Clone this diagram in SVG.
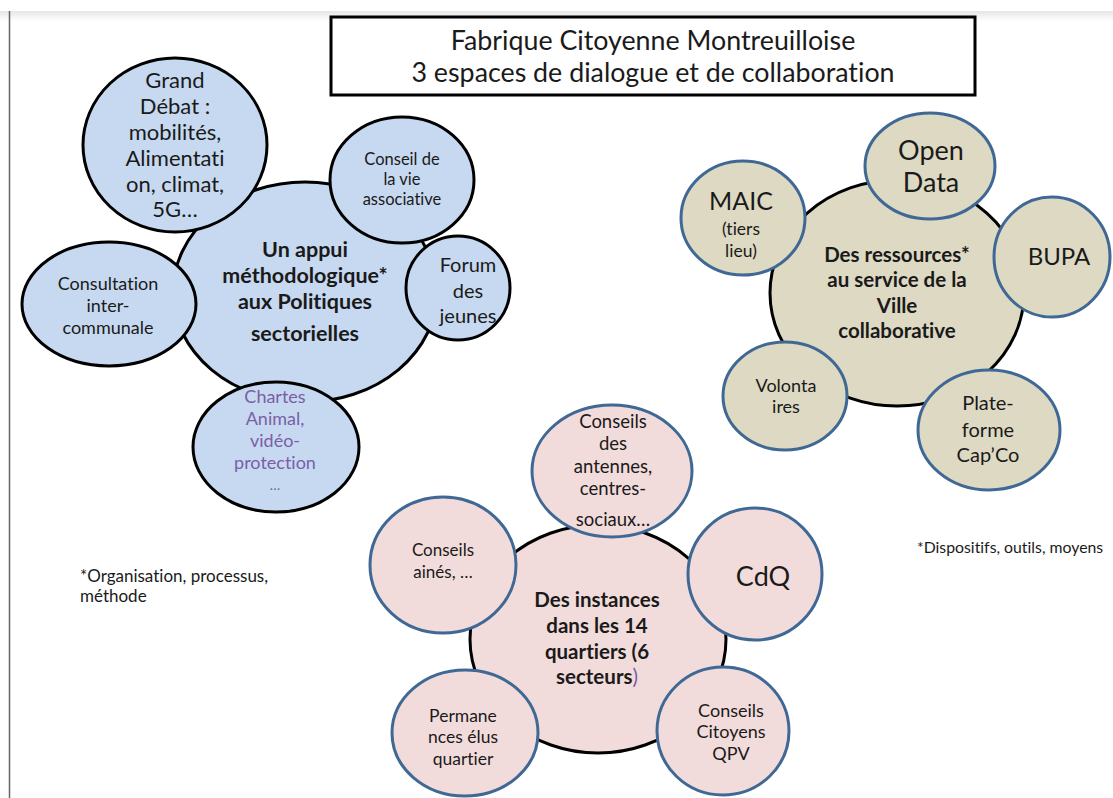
<svg xmlns="http://www.w3.org/2000/svg" width="1113" height="798" viewBox="0 0 1113 798">
<defs>
<linearGradient id="topShade" x1="0" y1="0" x2="0" y2="1">
<stop offset="0" stop-color="#e6e6e6"/>
<stop offset="1" stop-color="#ffffff"/>
</linearGradient>
<style>
text{font-family:Lato,"Liberation Sans",Arial,sans-serif;text-anchor:middle;fill:#1a1a1a;font-variant-ligatures:none;font-feature-settings:"liga" 0,"clig" 0}
.b{font-weight:bold}
.blue{fill:#c6d9f0;stroke:#000;stroke-width:3}
.tanC{fill:#ddd9c3;stroke:#000;stroke-width:3}
.tanS{fill:#ddd9c3;stroke:#3f6895;stroke-width:3}
.pinkC{fill:#f2dcdb;stroke:#000;stroke-width:3}
.pinkS{fill:#f2dcdb;stroke:#3f6895;stroke-width:3}
.purple{fill:#7b5ea6}
.fn{text-anchor:start}
</style>
</defs>
<rect width="1113" height="798" fill="#fff"/>
<rect x="0" y="11" width="1113" height="10" fill="url(#topShade)"/>
<line x1="9.5" y1="11" x2="9.5" y2="798" stroke="#666" stroke-width="1.5"/>

<g id="title">
<rect x="331" y="17" width="644" height="78" fill="#fff" stroke="#000" stroke-width="3"/>
<text x="653" y="50" font-size="26.8">Fabrique Citoyenne Montreuilloise</text>
<text x="653" y="82" font-size="26.8">3 espaces de dialogue et de collaboration</text>
</g>

<g id="connectors"></g>

<!-- Blue cluster -->
<g id="appui">
<ellipse class="blue" cx="305" cy="292" rx="132" ry="110"/>
<text class="b" font-size="21.5" x="305" y="257">Un appui</text>
<text class="b" font-size="21.5" x="305" y="283">méthodologique*</text>
<text class="b" font-size="21.5" x="305" y="309">aux Politiques</text>
<text class="b" font-size="21.5" x="305" y="341">sectorielles</text>
</g>
<g id="grand-debat">
<ellipse class="blue" cx="175" cy="145" rx="92" ry="87"/>
<text font-size="22" x="175" y="88">Grand</text>
<text font-size="22" x="175" y="114">Débat :</text>
<text font-size="22" x="175" y="140">mobilités,</text>
<text font-size="22" x="175" y="166">Alimentati</text>
<text font-size="22" x="175" y="192">on, climat,</text>
<text font-size="22" x="175" y="217">5G…</text>
</g>
<g id="conseil-vie-asso">
<ellipse class="blue" cx="402" cy="180" rx="72" ry="63"/>
<text font-size="16.5" x="402" y="165">Conseil de</text>
<text font-size="16.5" x="402" y="185">la vie</text>
<text font-size="16.5" x="402" y="205">associative</text>
</g>
<g id="forum">
<ellipse class="blue" cx="458" cy="288" rx="52" ry="52"/>
<text font-size="20" x="468" y="272">Forum</text>
<text font-size="20" x="468" y="298">des</text>
<text font-size="20" x="468" y="323">jeunes</text>
</g>
<g id="consultation">
<ellipse class="blue" cx="109" cy="304" rx="87" ry="62"/>
<text font-size="18" x="108" y="290">Consultation</text>
<text font-size="18" x="108" y="312">inter-</text>
<text font-size="18" x="108" y="334">communale</text>
</g>
<g id="chartes">
<ellipse class="blue" cx="276" cy="447" rx="83" ry="65"/>
<text class="purple" font-size="18" x="275" y="403">Chartes</text>
<text class="purple" font-size="18" x="275" y="425">Animal,</text>
<text class="purple" font-size="18" x="275" y="447">vidéo-</text>
<text class="purple" font-size="18" x="275" y="469">protection</text>
<text class="purple" font-size="14" x="275" y="490">…</text>
</g>

<!-- Tan cluster -->
<g id="ressources">
<ellipse class="tanC" cx="897" cy="293" rx="127" ry="113"/>
<text class="b" font-size="20.5" x="897" y="262">Des ressources*</text>
<text class="b" font-size="20.5" x="897" y="287">au service de la</text>
<text class="b" font-size="20.5" x="897" y="313">Ville</text>
<text class="b" font-size="20.5" x="897" y="338">collaborative</text>
</g>
<g id="open-data">
<ellipse class="tanS" cx="930" cy="166" rx="65" ry="53"/>
<text font-size="27" x="931" y="160">Open</text>
<text font-size="27" x="931" y="192">Data</text>
</g>
<g id="maic">
<ellipse class="tanS" cx="743" cy="218" rx="62" ry="57"/>
<text font-size="25" x="741" y="210">MAIC</text>
<text font-size="17.5" x="741" y="235">(tiers</text>
<text font-size="17.5" x="741" y="257">lieu)</text>
</g>
<g id="bupa">
<ellipse class="tanS" cx="1052" cy="257" rx="58" ry="60"/>
<text font-size="24" x="1059" y="265">BUPA</text>
</g>
<g id="volontaires">
<ellipse class="tanS" cx="785" cy="396" rx="62" ry="54"/>
<text font-size="18" x="786" y="392">Volonta</text>
<text font-size="18" x="786" y="413">ires</text>
</g>
<g id="capco">
<ellipse class="tanS" cx="989" cy="430" rx="71" ry="60"/>
<text font-size="20" x="988" y="410">Plate-</text>
<text font-size="20" x="988" y="437">forme</text>
<text font-size="20" x="988" y="462">Cap’Co</text>
</g>

<!-- Pink cluster -->
<g id="instances">
<ellipse class="pinkC" cx="598" cy="639" rx="128" ry="114"/>
<text class="b" font-size="20.5" x="597" y="607">Des instances</text>
<text class="b" font-size="20.5" x="597" y="633">dans les 14</text>
<text class="b" font-size="20.5" x="597" y="659">quartiers (6</text>
<text font-size="20.5" x="597" y="684"><tspan class="b">secteurs</tspan><tspan class="purple">)</tspan></text>
</g>
<g id="antennes">
<ellipse class="pinkS" cx="612" cy="471" rx="80" ry="66"/>
<text font-size="18.5" x="613" y="428">Conseils</text>
<text font-size="18.5" x="613" y="450">des</text>
<text font-size="18.5" x="613" y="473">antennes,</text>
<text font-size="18.5" x="613" y="495">centres-</text>
<text font-size="18.5" x="613" y="526">sociaux…</text>
</g>
<g id="aines">
<ellipse class="pinkS" cx="443" cy="565" rx="73" ry="68"/>
<text font-size="17" x="443" y="556">Conseils</text>
<text font-size="17" x="443" y="578">ainés, …</text>
</g>
<g id="cdq">
<ellipse class="pinkS" cx="755" cy="574" rx="67" ry="66"/>
<text font-size="27" x="763" y="586">CdQ</text>
</g>
<g id="permanences">
<ellipse class="pinkS" cx="465" cy="733" rx="73" ry="63"/>
<text font-size="17.5" x="463" y="722">Permane</text>
<text font-size="17.5" x="463" y="743">nces élus</text>
<text font-size="17.5" x="463" y="765">quartier</text>
</g>
<g id="qpv">
<ellipse class="pinkS" cx="723" cy="731" rx="66" ry="64"/>
<text font-size="18" x="731" y="717">Conseils</text>
<text font-size="18" x="731" y="738">Citoyens</text>
<text font-size="18" x="731" y="760">QPV</text>
</g>

<g id="footnotes">
<text class="fn" font-size="17" x="80" y="582">*Organisation, processus,</text>
<text class="fn" font-size="17" x="80" y="602">méthode</text>
<text class="fn" font-size="15.8" x="917" y="553">*Dispositifs, outils, moyens</text>
</g>
</svg>
